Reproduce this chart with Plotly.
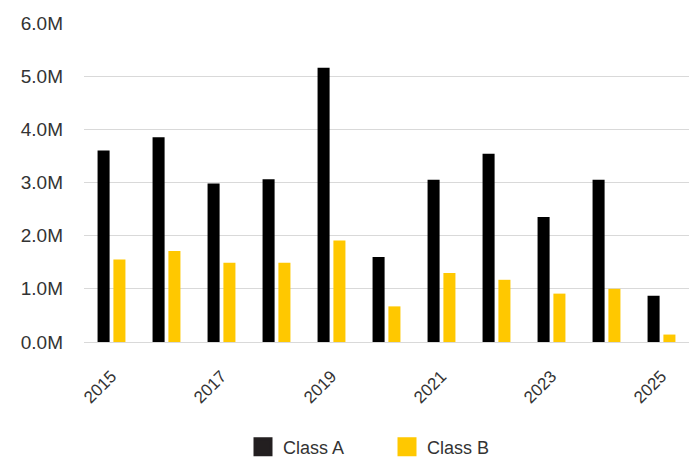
import plotly.graph_objects as go

years = [2015, 2016, 2017, 2018, 2019, 2020, 2021, 2022, 2023, 2024, 2025]
class_a = [3.60e6, 3.85e6, 2.98e6, 3.06e6, 5.16e6, 1.60e6, 3.05e6, 3.54e6, 2.35e6, 3.05e6, 0.87e6]
class_b = [1.55e6, 1.71e6, 1.49e6, 1.49e6, 1.91e6, 0.67e6, 1.30e6, 1.17e6, 0.91e6, 1.00e6, 0.14e6]
y_ticks = [0, 1e6, 2e6, 3e6, 4e6, 5e6, 6e6]
y_tick_text = ["0.0M", "1.0M", "2.0M", "3.0M", "4.0M", "5.0M", "6.0M"]

COLOR_A = "#000000"
COLOR_B = "#FFC800"
TEXT = "#333333"
FONT = "Liberation Sans"
W, H = 694, 459

fig = go.Figure()
fig.add_trace(go.Bar(x=years, y=class_a, name="Class A", marker=dict(color=COLOR_A, line=dict(width=0)),
                     showlegend=False))
fig.add_trace(go.Bar(x=years, y=class_b, name="Class B", marker=dict(color=COLOR_B, line=dict(width=0)),
                     showlegend=False))

# legend entries with larger square swatches
for name, col in [("Class A", "#231F20"), ("Class B", COLOR_B)]:
    fig.add_trace(go.Scatter(x=[None], y=[None], mode="markers", name=name,
                             marker=dict(symbol="square", size=16, color=col,
                                         line=dict(color=col, width=3))))

fig.update_layout(
    width=W, height=H,
    margin=dict(l=84, r=5, t=23, b=117),
    paper_bgcolor="white", plot_bgcolor="white",
    font=dict(family=FONT, size=18, color=TEXT),
    barmode="group", bargap=0.424, bargroupgap=0.24,
    legend=dict(orientation="h", xref="container", yref="container",
                x=243 / W, xanchor="left", y=1 - 447 / H, yanchor="middle",
                font=dict(size=18, color=TEXT), itemwidth=30, tracegroupgap=0,
                entrywidth=99, entrywidthmode="pixels"),
)
fig.update_xaxes(
    type="linear", range=[2014.5, 2025.5], tick0=2015, dtick=2,
    tickangle=-45, showgrid=False, zeroline=False, showline=False,
    tickfont=dict(size=17, color=TEXT), ticks="", ticklabelstandoff=20,
    automargin=False,
)
fig.update_yaxes(
    range=[0, 6e6], tickvals=y_ticks, ticktext=y_tick_text,
    showgrid=True, gridcolor="#D9D9D9", gridwidth=1,
    zeroline=True, zerolinecolor="#D9D9D9", zerolinewidth=1, showline=False,
    tickfont=dict(size=19, color=TEXT), ticks="", ticklabelstandoff=20,
    automargin=False,
)

fig.write_html("out.html")
